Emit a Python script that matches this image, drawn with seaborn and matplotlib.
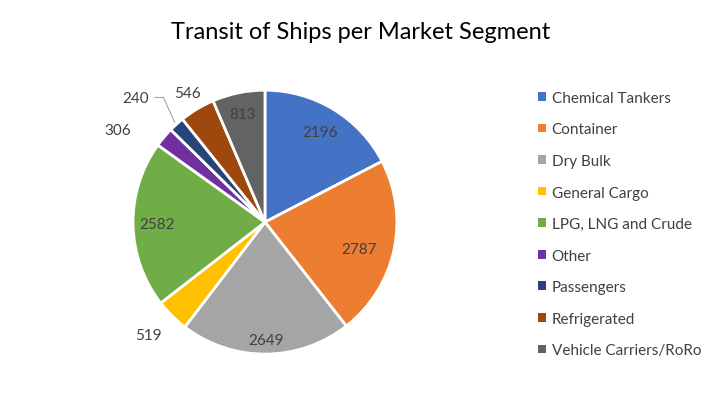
import numpy as np
import seaborn as sns
import matplotlib.pyplot as plt
from matplotlib.patches import Patch

# dados: travessias por segmento de mercado
segmentos = ["Chemical Tankers", "Container", "Dry Bulk", "General Cargo",
             "LPG, LNG and Crude", "Other", "Passengers", "Refrigerated",
             "Vehicle Carriers/RoRo"]
transitos = [2196, 2787, 2649, 519, 2582, 306, 240, 546, 813]

cores = sns.color_palette(["#4472C4", "#ED7D31", "#A5A5A5", "#FFC000", "#70AD47",
                           "#7030A0", "#264478", "#9E480E", "#636363"])

sns.set_theme(style="white")
plt.rcParams['font.family'] = ['Lato', 'DejaVu Sans']

fig = plt.figure(figsize=(7.21, 4.02), dpi=100)
ax = fig.add_axes([0.3675 - 0.183, 0.445 - 0.3284, 0.366, 0.6567])

wedges, _ = ax.pie(transitos, colors=cores, startangle=90, counterclock=False,
                   wedgeprops=dict(edgecolor="white", linewidth=2))
ax.set_xlim(-1, 1)
ax.set_ylim(-1, 1)
ax.set_aspect("equal")

# posicao dos rótulos (raio relativo, ajuste de angulo)
raios = [0.80, 0.74, 0.89, 1.23, 0.82, 1.32, 1.36, 1.14, 0.84]
ajustes = [0, -4, 0, -1, 0, 8, 4, 0, 0]
for w, v, r, da in zip(wedges, transitos, raios, ajustes):
    ang = np.deg2rad((w.theta1 + w.theta2) / 2 + da)
    ax.text(r * np.cos(ang), r * np.sin(ang), str(v), ha="center", va="center",
            fontsize=11, color="#404040", clip_on=False)

# linha de chamada para 240
w = wedges[6]
ang = np.deg2rad((w.theta1 + w.theta2) / 2)
ang2 = ang + np.deg2rad(-3)
ax.plot([1.02 * np.cos(ang), 1.22 * np.cos(ang2)],
        [1.02 * np.sin(ang), 1.22 * np.sin(ang2)],
        color="#A6A6A6", lw=0.8, clip_on=False)
ax.plot([1.22 * np.cos(ang2), 1.22 * np.cos(ang2) - 0.07],
        [1.22 * np.sin(ang2)] * 2,
        color="#A6A6A6", lw=0.8, clip_on=False)

fig.suptitle("Transit of Ships per Market Segment", fontsize=17, color="black",
             x=0.5, y=0.92, va="center")

handles = [Patch(facecolor=c, edgecolor="none") for c in cores]
fig.legend(handles, segmentos, loc="center left", bbox_to_anchor=(0.727, 0.44),
           frameon=False, fontsize=11, handlelength=0.5, handleheight=0.5,
           handletextpad=0.4, labelspacing=1.15, labelcolor="#404040")

fig.savefig("out.png", dpi=100)
